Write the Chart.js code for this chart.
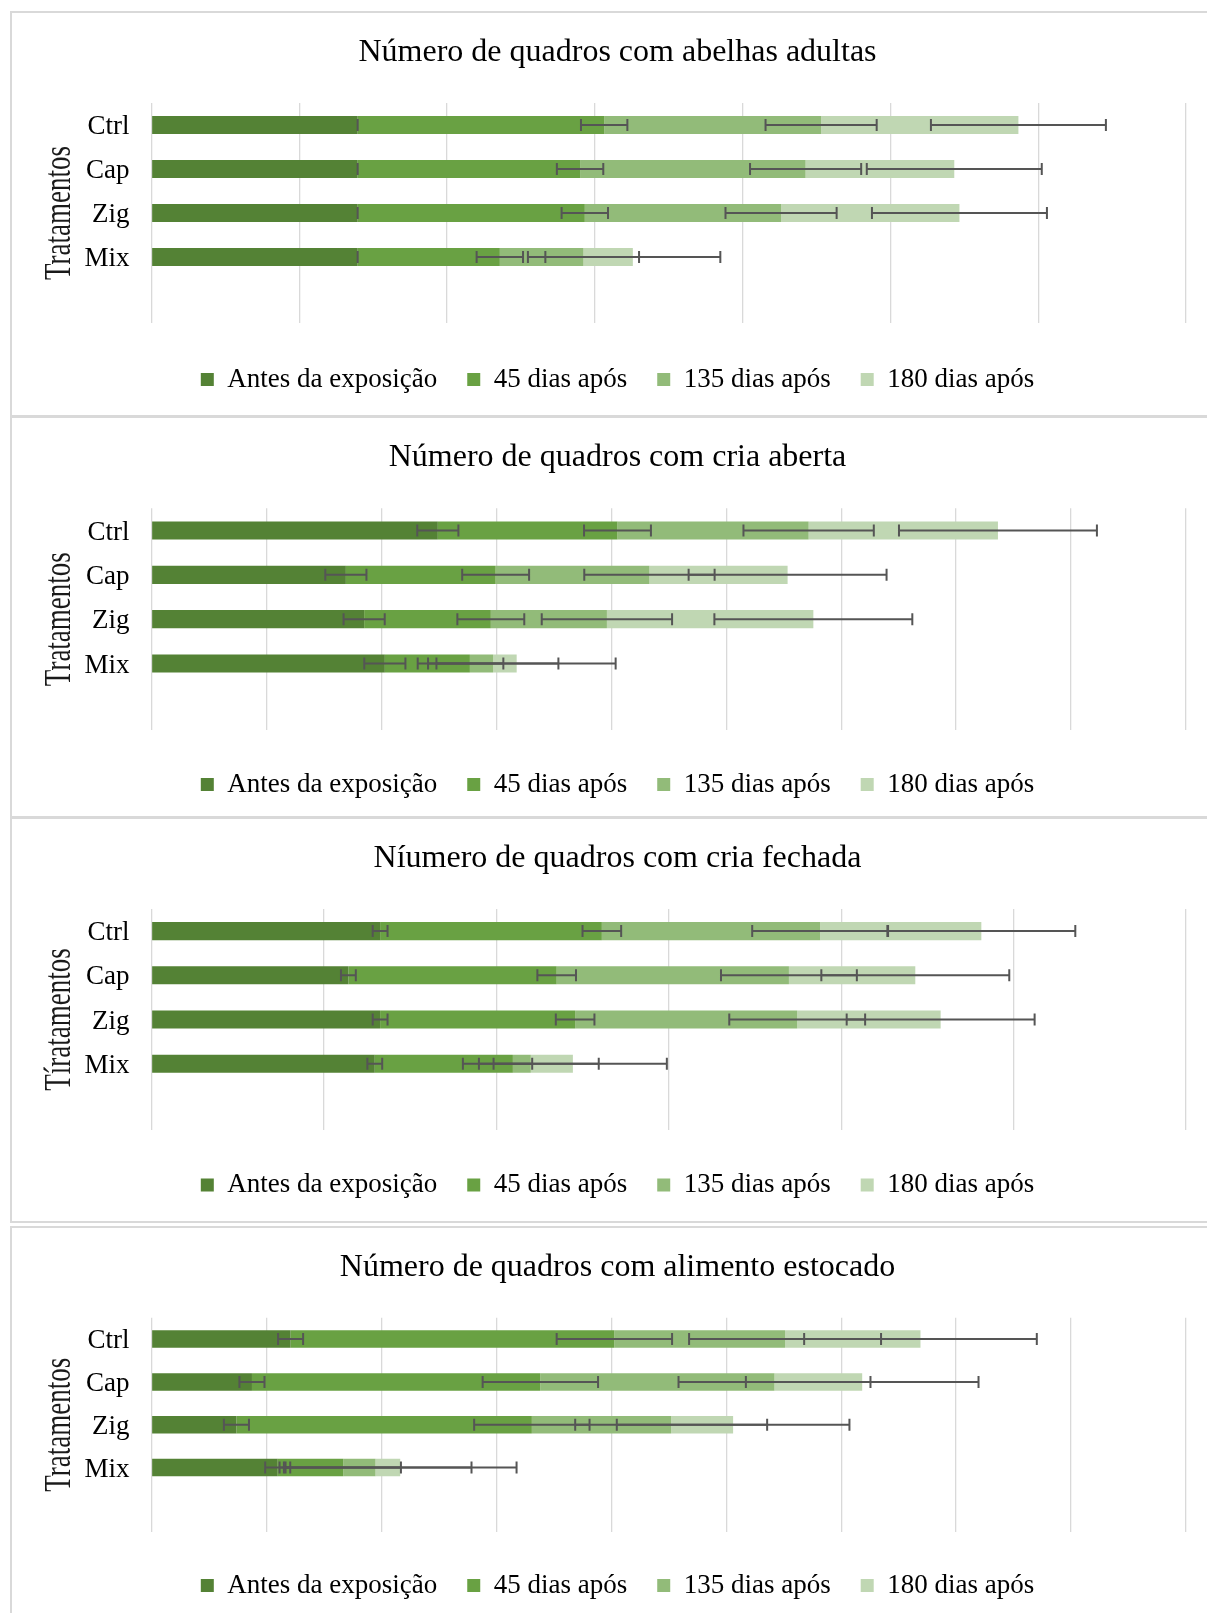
<!DOCTYPE html>
<html lang="pt">
<head>
<meta charset="utf-8">
<title>Quadros por tratamento</title>
<script src="https://cdn.jsdelivr.net/npm/chart.js@4.4.1/dist/chart.umd.min.js"></script>
<style>
  html, body { margin: 0; padding: 0; background: #fff; overflow: hidden; }
  body { width: 1207px; height: 1613px; position: relative; }
  .painel { position: absolute; left: 10px; width: 1222px; box-sizing: border-box; border: 2px solid #D9D9D9; }
  canvas { position: absolute; left: 12px; }
</style>
</head>
<body>
<div class="painel" style="top:11px;height:406px"></div>
<div class="painel" style="top:416px;height:402px"></div>
<div class="painel" style="top:817px;height:406px"></div>
<div class="painel" style="top:1226px;height:420px"></div>
<canvas id="g1" width="1211" height="402" style="top:13px"></canvas>
<canvas id="g2" width="1211" height="398" style="top:418px"></canvas>
<canvas id="g3" width="1211" height="402" style="top:819px"></canvas>
<canvas id="g4" width="1211" height="400" style="top:1228px"></canvas>
<script>
// ---- Dados ----
const categorias = ['Ctrl', 'Cap', 'Zig', 'Mix', ''];
const series = ['Antes da exposição', '45 dias após', '135 dias após', '180 dias após'];

// Número de quadros com abelhas adultas
const adultasAntes = [1.395, 1.395, 1.395, 1.395];
const adultas45    = [1.668, 1.505, 1.537, 0.962];
const adultas135   = [1.468, 1.526, 1.328, 0.566];
const adultas180   = [1.335, 1.006, 1.207, 0.334];
const adultasErro  = [0, 0.157, 0.376, 0.592];

// Número de quadros com cria aberta
const abertaAntes = [2.491, 1.691, 1.850, 2.030];
const aberta45    = [1.563, 1.303, 1.102, 0.740];
const aberta135   = [1.663, 1.338, 1.010, 0.203];
const aberta180   = [1.647, 1.202, 1.796, 0.204];
const abertaErro  = [0.179, 0.291, 0.567, 0.861];

// Número de quadros com cria fechada
const fechadaAntes = [1.326, 1.142, 1.326, 1.295];
const fechada45    = [1.286, 1.208, 1.131, 0.801];
const fechada135   = [1.266, 1.347, 1.288, 0.104];
const fechada180   = [0.935, 0.733, 0.832, 0.244];
const fechadaErro  = [0.043, 0.112, 0.394, 0.545];

// Número de quadros com alimento estocado
const alimentoAntes = [1.210, 0.874, 0.739, 1.098];
const alimento45    = [2.817, 2.509, 2.570, 0.570];
const alimento135   = [1.485, 2.037, 1.212, 0.281];
const alimento180   = [1.178, 0.763, 0.539, 0.215];
const alimentoErro  = [0.109, 0.502, 0.835, 1.012];

// ---- Estilo ----
const cores = ['#548235', '#69A143', '#92BB79', '#C0D7B3'];
const fonte = '"Liberation Serif", "Times New Roman", serif';

// Barras de erro (erro padrão) no fim de cada segmento empilhado
const barrasErro = {
  id: 'barrasErro',
  afterDatasetsDraw(chart) {
    const ctx = chart.ctx;
    const xs = chart.scales.x;
    const ds = chart.data.datasets;
    ctx.save();
    ctx.strokeStyle = '#555555';
    ctx.lineWidth = 2;
    ds.forEach((d, i) => {
      const meta = chart.getDatasetMeta(i);
      meta.data.forEach((bar, j) => {
        let acum = 0;
        for (let k = 0; k <= i; k++) acum += ds[k].data[j];
        const e = d.erro;
        const x1 = xs.getPixelForValue(acum - e);
        const x2 = xs.getPixelForValue(acum + e);
        const y = bar.y;
        const h = 6;
        ctx.beginPath();
        ctx.moveTo(x1, y); ctx.lineTo(x2, y);
        ctx.moveTo(x1, y - h); ctx.lineTo(x1, y + h);
        ctx.moveTo(x2, y - h); ctx.lineTo(x2, y + h);
        ctx.stroke();
      });
    });
    ctx.restore();
  }
};

// Título do eixo vertical, girado e alongado
const tituloEixo = {
  id: 'tituloEixo',
  afterDraw(chart, args, opts) {
    const ctx = chart.ctx;
    const a = chart.chartArea;
    ctx.save();
    ctx.translate(opts.x, (a.top + a.bottom) / 2);
    ctx.rotate(-Math.PI / 2);
    ctx.scale(1, 1.42);
    ctx.font = '27px ' + fonte;
    ctx.fillStyle = '#1a1a1a';
    ctx.textAlign = 'center';
    ctx.textBaseline = 'middle';
    ctx.fillText(opts.text, 0, 0);
    ctx.restore();
  }
};

function grafico(id, p) {
  const fsLeg = 27, padLeg = 30;
  const tituloTopo = p.tituloMeio - p.topo - 19.2;
  const tituloBase = p.areaTopo - p.topo - tituloTopo - 38.4;
  const legTopo = p.legMeio - p.topo - (padLeg + fsLeg / 2);
  const vaoX = legTopo - (p.areaBase - p.topo);
  const padBaixo = p.altura - (legTopo + fsLeg + padLeg + 10);
  new Chart(document.getElementById(id), {
    type: 'bar',
    data: {
      labels: categorias,
      datasets: series.map((s, i) => ({
        label: s,
        data: p.valores[i],
        erro: p.erro[i],
        backgroundColor: cores[i],
        borderWidth: 0,
        barPercentage: 0.41,
        categoryPercentage: 1
      }))
    },
    options: {
      indexAxis: 'y',
      responsive: false,
      animation: false,
      events: [],
      layout: { padding: { top: 0, left: 0, right: 0, bottom: padBaixo } },
      scales: {
        x: {
          stacked: true, min: 0, max: p.max,
          ticks: { display: false, stepSize: 1 },
          grid: { color: '#D9D9D9', lineWidth: 1.3, drawTicks: false },
          border: { display: false },
          afterFit(s) { s.height = vaoX; }
        },
        y: {
          stacked: true,
          ticks: { font: { family: fonte, size: 27 }, color: '#000', padding: 22, labelOffset: 2 },
          grid: { display: false, drawTicks: false },
          border: { display: false },
          afterFit(s) { s.width = 139.5; }
        },
        margem: {
          axis: 'y', type: 'linear', position: 'right', display: true,
          ticks: { display: false }, grid: { display: false, drawTicks: false },
          border: { display: false },
          afterFit(s) { s.width = 37; }
        }
      },
      plugins: {
        title: {
          display: true, text: p.titulo, color: '#000',
          font: { family: fonte, size: 32, weight: 'normal' },
          padding: { top: tituloTopo, bottom: tituloBase }
        },
        legend: {
          position: 'bottom',
          labels: { boxWidth: 13, boxHeight: 13, padding: padLeg, color: '#000',
                    font: { family: fonte, size: fsLeg } }
        },
        tooltip: { enabled: false },
        tituloEixo: { text: p.eixo, x: 48.4 }
      }
    },
    plugins: [barrasErro, tituloEixo]
  });
}

grafico('g1', {
  titulo: 'Número de quadros com abelhas adultas', eixo: 'Tratamentos', max: 7,
  valores: [adultasAntes, adultas45, adultas135, adultas180], erro: adultasErro,
  topo: 13, altura: 402, tituloMeio: 52.2, areaTopo: 103, areaBase: 323, legMeio: 379.5
});
grafico('g2', {
  titulo: 'Número de quadros com cria aberta', eixo: 'Tratamentos', max: 9,
  valores: [abertaAntes, aberta45, aberta135, aberta180], erro: abertaErro,
  topo: 418, altura: 398, tituloMeio: 458, areaTopo: 508.3, areaBase: 730, legMeio: 784.5
});
grafico('g3', {
  titulo: 'Níumero de quadros com cria fechada', eixo: 'Tíratamentos', max: 6,
  valores: [fechadaAntes, fechada45, fechada135, fechada180], erro: fechadaErro,
  topo: 819, altura: 402, tituloMeio: 858.5, areaTopo: 909, areaBase: 1130, legMeio: 1185
});
grafico('g4', {
  titulo: 'Número de quadros com alimento estocado', eixo: 'Tratamentos', max: 9,
  valores: [alimentoAntes, alimento45, alimento135, alimento180], erro: alimentoErro,
  topo: 1228, altura: 400, tituloMeio: 1268, areaTopo: 1317.7, areaBase: 1531.7, legMeio: 1585.5
});
</script>
</body>
</html>
